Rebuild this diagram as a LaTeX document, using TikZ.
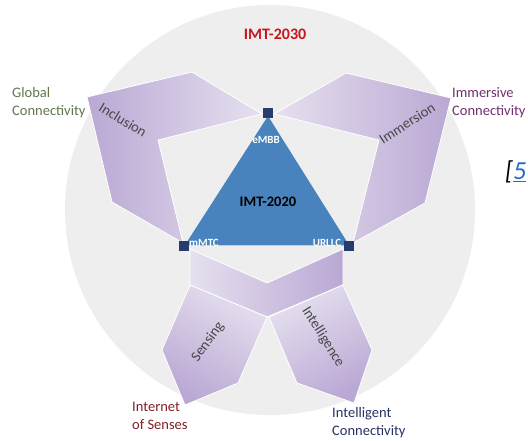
\documentclass[tikz,border=0pt]{standalone}
\usepackage{fontspec}
\setmainfont{Carlito}
\definecolor{imtblue}{RGB}{72,131,189}
\definecolor{imtnavy}{RGB}{38,60,110}
\definecolor{ringgray}{RGB}{238,238,238}
\definecolor{plight}{RGB}{230,224,239}
\definecolor{pdark}{RGB}{186,168,212}
\definecolor{imtred}{RGB}{200,22,30}
\definecolor{globalgreen}{RGB}{98,118,78}
\definecolor{immpurple}{RGB}{112,48,112}
\definecolor{sensered}{RGB}{128,32,40}
\definecolor{intelblue}{RGB}{40,50,100}
\definecolor{citeblue}{RGB}{30,110,210}
\begin{document}
\begin{tikzpicture}[x=1pt, y=-1pt,
	corner/.style={fill=imtnavy, minimum size=10.5pt, inner sep=0pt},
	usecase/.style={text=white, font=\bfseries\fontsize{11}{12}\selectfont, inner sep=0pt},
	wing/.style={draw=white, line width=0.8pt},
	trend/.style={text=black!72, font=\fontsize{14.5}{16}\selectfont, inner sep=0pt},
	goal/.style={align=left, anchor=north west, inner sep=0pt, font=\fontsize{14.5}{18}\selectfont}]
	\useasboundingbox (0,0) rectangle (528,441);
	\fill[white] (0,0) rectangle (528,441);
		% background disc
		\fill[ringgray] (270,210) circle (205pt);
		\node[text=imtred, font=\bfseries\fontsize{16}{18}\selectfont] (imt30) at (275,34) {IMT-2030};
		% wings
		\shade[wing, left color=pdark, right color=plight] (87,97) -- (192,72) -- (262,114) -- (158,140) -- (183,243) -- (112,202) -- cycle;
		\shade[wing, left color=plight, right color=pdark] (451,98) -- (346,73) -- (274,114) -- (379,140) -- (353,243) -- (425,203) -- cycle;
		\shade[wing, left color=plight, right color=pdark] (190,249) -- (267,283) -- (343,249) -- (343,285) -- (267,317) -- (190,285) -- cycle;
		\shade[wing, left color=plight, right color=pdark, shading angle=-30] (190,285) -- (267,317) -- (238,383) -- (185,405) -- (162,350) -- cycle;
		\shade[wing, left color=plight, right color=pdark, shading angle=30] (343,285) -- (269,317) -- (297,383) -- (354,403) -- (372,350) -- cycle;
		\node[trend, rotate=-31] (inclusion) at (123,120) {Inclusion};
		\node[trend, rotate=33] (immersion) at (407,123) {Immersion};
		\node[trend, rotate=54] (sensing) at (208,342) {Sensing};
		\node[trend, rotate=-58] (intelligence) at (323,337) {Intelligence};
		% IMT-2020 triangle
		\fill[imtblue] (268,116) -- (349,245) -- (185,245) -- cycle;
		\draw[imtblue!40, line width=0.8pt] (187,245) -- (347,245);
		\node[corner] (embb) at (268,113) {};
		\node[corner] (mmtc) at (184,246) {};
		\node[corner] (urllc) at (349,246) {};
		\node[usecase] at (266,140) {eMBB};
		\node[usecase] at (204,243) {mMTC};
		\node[usecase] at (327,243) {URLLC};
		\node[font=\bfseries\fontsize{14.5}{16}\selectfont] (imt20) at (268,202) {IMT-2020};
		% goals
		\node[goal, text=globalgreen] (global) at (12,87) {Global\\Connectivity};
		\node[goal, text=immpurple] (immersive) at (452,87) {Immersive\\Connectivity};
		\node[goal, text=sensered] (senses) at (132,402) {Internet\\of Senses};
		\node[goal, text=intelblue] (intelligent) at (332,407) {Intelligent\\Connectivity};
		\node[anchor=west, inner sep=0pt, font=\itshape\fontsize{26}{28}\selectfont] (cite) at (505,172) {[\textcolor{citeblue}{\underline{5}}};
	\end{tikzpicture}
\end{document}
